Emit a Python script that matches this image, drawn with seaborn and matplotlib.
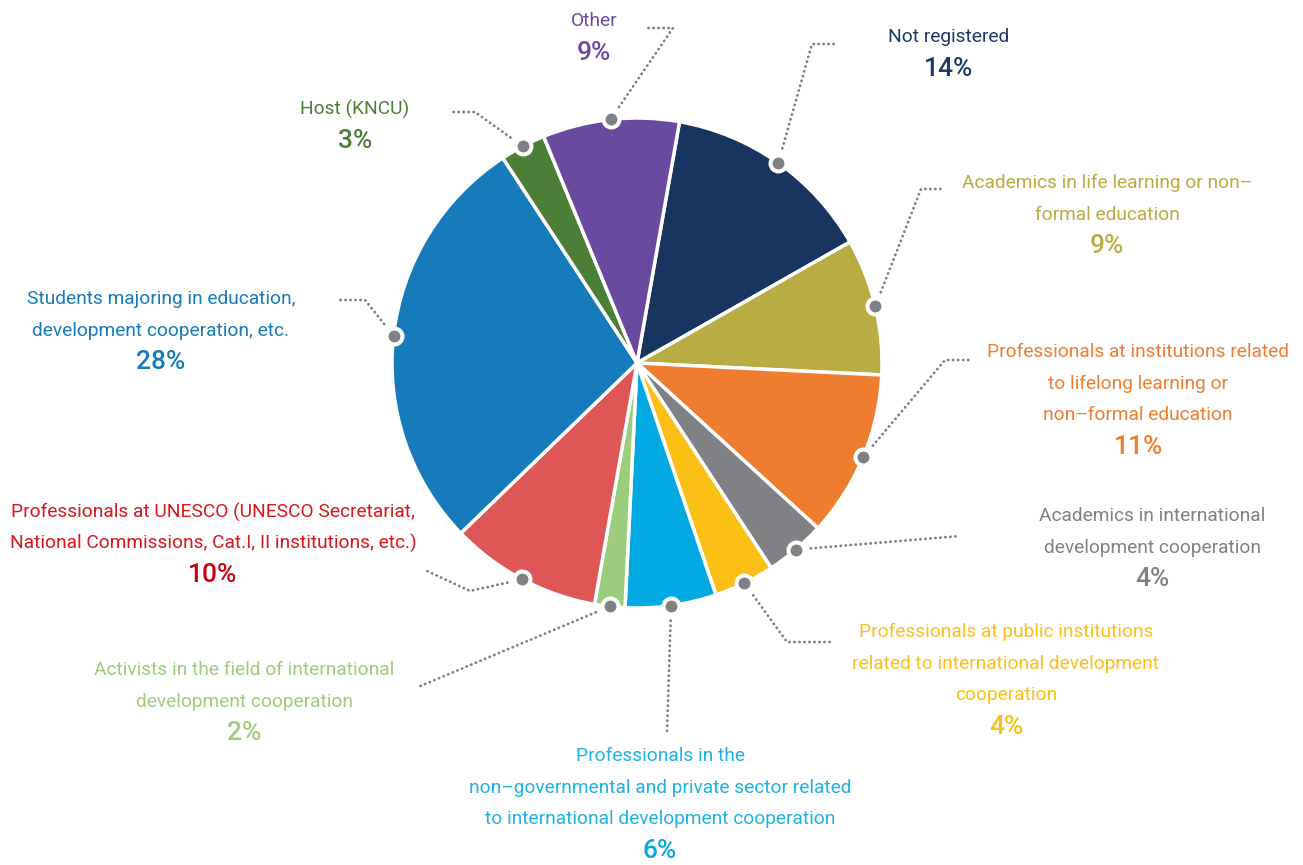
import numpy as np
import matplotlib
matplotlib.use("Agg")
import matplotlib.pyplot as plt
import seaborn as sns

# ---- data ----
categories = [
    "Not registered",
    "Academics in life learning or non\u2013\nformal education",
    "Professionals at institutions related\nto lifelong learning or\nnon\u2013formal education",
    "Academics in international\ndevelopment cooperation",
    "Professionals at public institutions\nrelated to international development\ncooperation",
    "Professionals in the\nnon\u2013governmental and private sector related\nto international development cooperation",
    "Activists in the field of international\ndevelopment cooperation",
    "Professionals at UNESCO (UNESCO Secretariat,\nNational Commissions, Cat.I, II institutions, etc.)",
    "Students majoring in education,\ndevelopment cooperation, etc.",
    "Host (KNCU)",
    "Other",
]
values = [14, 9, 11, 4, 4, 6, 2, 10, 28, 3, 9]

wedge_colors = ["#17355f", "#b8ac42", "#ee7d30", "#808184", "#fbbf16", "#00a9e2",
                "#9ccd7c", "#de5656", "#167bbb", "#4b7e37", "#6a4a9e"]
label_colors = ["#1d3a66", "#b8ac42", "#ee7d30", "#808184", "#fbbf16", "#1fb2e6",
                "#9ccd7c", "#d9161e", "#167bbb", "#4b7e37", "#6a4a9e"]
pct_colors = ["#1d3a66", "#b8ac42", "#ee7d30", "#808184", "#fbbf16", "#00a9e2",
              "#9ccd7c", "#c8000a", "#167bbb", "#4b7e37", "#6a4a9e"]

# ---- layout in image pixels (x, y from top) ----
W, H = 1303, 865
CX, CY, R = 637, 363, 245

# text centre of first line
text_pos = [(949, 37), (1107, 183), (1138, 352), (1152, 516), (1006, 632),
            (660, 756), (244, 670), (213, 512), (161, 299), (355, 109), (594, 21)]
# leader line points after the dot
leaders = [
    [(812, 44), (838, 44)],
    [(921, 189), (945, 189)],
    [(945, 360), (970, 360)],
    [(960, 536)],
    [(787, 642), (830, 642)],
    [(667, 733)],
    [(418, 687)],
    [(470, 591), (425, 570)],
    [(365, 300), (338, 300)],
    [(475, 112), (450, 112)],
    [(673, 28), (648, 28)],
]
LINE_STEP = 31.6

sns.set_theme(style="white")
plt.rcParams["font.family"] = ["Roboto", "DejaVu Sans"]

fig = plt.figure(figsize=(W / 100, H / 100), dpi=100)
ax = fig.add_axes([0, 0, 1, 1])


def Y(y):
    return H - y


wedges, _ = ax.pie(
    values,
    colors=wedge_colors,
    startangle=80,
    counterclock=False,
    center=(CX, Y(CY)),
    radius=R,
    wedgeprops=dict(edgecolor="white", linewidth=2.5),
    frame=True,
)
ax.set_xlim(0, W)
ax.set_ylim(0, H)
ax.set_aspect("equal")
ax.axis("off")

gray = "#808184"
for i, w in enumerate(wedges):
    mid = np.deg2rad((w.theta1 + w.theta2) / 2)
    dx, dy = CX + R * np.cos(mid), Y(CY) + R * np.sin(mid)

    # leader line (starts a bit away from the dot)
    pts = [(px, Y(py)) for px, py in leaders[i]]
    fx, fy = pts[0]
    d = np.hypot(fx - dx, fy - dy)
    sx, sy = dx + (fx - dx) * 15 / d, dy + (fy - dy) * 15 / d
    xs = [sx] + [p[0] for p in pts]
    ys = [sy] + [p[1] for p in pts]
    ax.plot(xs, ys, color=gray, linewidth=2.0, linestyle=(0, (0.1, 1.7)),
            dash_capstyle="round", solid_capstyle="round", zorder=3)

    ax.plot(dx, dy, marker="o", markersize=11.5, markerfacecolor=gray,
            markeredgecolor="white", markeredgewidth=2.9, zorder=5)

    # label text
    tx, ty = text_pos[i]
    lines = categories[i].split("\n")
    for k, line in enumerate(lines):
        ax.text(tx, Y(ty + k * LINE_STEP), line, ha="center", va="center",
                fontsize=13.8, fontweight="normal", color=label_colors[i])
    ax.text(tx, Y(ty + len(lines) * LINE_STEP), f"{values[i]}%", ha="center",
            va="center", fontsize=19, fontweight="medium", color=pct_colors[i])

fig.savefig("out.png", dpi=100, facecolor="white")
